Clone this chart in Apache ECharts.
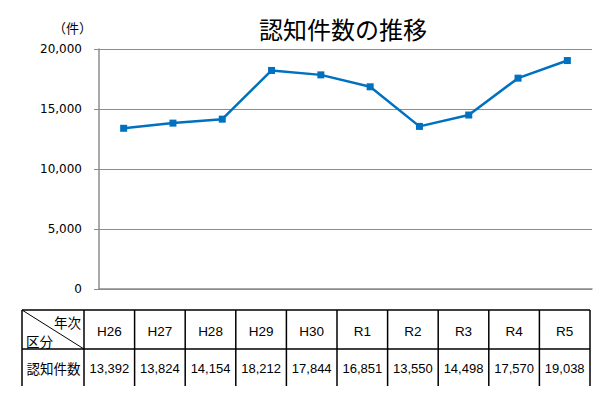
<!DOCTYPE html>
<html>
<head>
<meta charset="utf-8">
<script src="https://cdn.jsdelivr.net/npm/echarts@6/dist/echarts.min.js"></script>
<style>html,body{margin:0;padding:0;background:#fff}#c{width:596px;height:396px}</style>
</head>
<body>
<div id="c"></div>
<script>
// ---- data ----
var titleText = '認知件数の推移';
var unitText = '（件）';
var categories = ['H26','H27','H28','H29','H30','R1','R2','R3','R4','R5'];
var counts = [13392,13824,14154,18212,17844,16851,13550,14498,17570,19038];
var rowHeaderTop = '年次';
var rowHeaderBottom = '区分';
var rowLabel = '認知件数';
var yTicks = [0, 5000, 10000, 15000, 20000];

function fmt(n){ return String(n).replace(/\B(?=(\d{3})+(?!\d))/g, ','); }

var chart = echarts.init(document.getElementById('c'), null, {renderer:'svg'});

// table layout
var tLeft = 22, tFirst = 84, tRight = 590, tTop = 310, tMid = 349, tBottom = 386;
var colW = (tRight - tFirst) / categories.length;
var lineStyle = {stroke:'#000', lineWidth:1.5};
var latin = '"Liberation Sans", "Noto Sans CJK JP", sans-serif';
var g = [];
function hline(y){ g.push({type:'line', shape:{x1:tLeft,y1:y,x2:tRight,y2:y}, style:lineStyle, silent:true}); }
function vline(x){ g.push({type:'line', shape:{x1:x,y1:tTop,x2:x,y2:tBottom}, style:lineStyle, silent:true}); }
hline(tTop); hline(tMid);
vline(tLeft); vline(tFirst);
for (var i = 0; i < categories.length; i++) vline(tFirst + colW*(i+1));
g.push({type:'line', shape:{x1:tLeft,y1:tTop,x2:tFirst,y2:tMid}, style:{stroke:'#000',lineWidth:1}, silent:true});
g.push({type:'text', x:81, y:322, style:{text:rowHeaderTop, font:'13.5px "Noto Sans CJK JP"', fill:'#000', align:'right', verticalAlign:'middle'}});
g.push({type:'text', x:26, y:341, style:{text:rowHeaderBottom, font:'13.5px "Noto Sans CJK JP"', fill:'#000', align:'left', verticalAlign:'middle'}});
g.push({type:'text', x:(tLeft+tFirst)/2+0.5, y:368, style:{text:rowLabel, font:'13.5px "Noto Sans CJK JP"', fill:'#000', align:'center', verticalAlign:'middle'}});
for (var j = 0; j < categories.length; j++) {
  var cx = tFirst + colW*(j+0.5);
  g.push({type:'text', x:cx, y:331, style:{text:categories[j], font:'13.5px '+latin, fill:'#000', align:'center', verticalAlign:'middle'}});
  g.push({type:'text', x:cx, y:368, style:{text:fmt(counts[j]), font:'13px '+latin, fill:'#000', align:'center', verticalAlign:'middle'}});
}

chart.setOption({
  animation:false,
  backgroundColor:'#fff',
  title:{
    text:titleText, left:259, top:16, padding:0,
    textStyle:{fontFamily:'"Noto Sans CJK JP"', fontSize:24, fontWeight:'normal', color:'#000'}
  },
  grid:{left:99, right:4, top:49, bottom:107, containLabel:false},
  xAxis:{
    type:'category', data:categories, boundaryGap:true,
    axisLine:{lineStyle:{color:'#8c8c8c', width:1.5}},
    axisTick:{show:false}, axisLabel:{show:false}, splitLine:{show:false}
  },
  yAxis:{
    type:'value', min:yTicks[0], max:yTicks[yTicks.length-1], interval:5000,
    name:unitText, nameLocation:'end', nameGap:22,
    nameTextStyle:{fontFamily:'"Noto Sans CJK JP"', fontSize:13, color:'#000', align:'right', verticalAlign:'middle', padding:[0,7,0,0]},
    axisLine:{show:true, lineStyle:{color:'#8c8c8c', width:1.5}},
    axisTick:{show:true, inside:false, length:5, lineStyle:{color:'#8c8c8c', width:1}},
    axisLabel:{margin:17, fontFamily:'"DejaVu Sans"', fontSize:12, color:'#000', formatter:function(v){return fmt(v);}},
    splitLine:{show:true, lineStyle:{color:'#8c8c8c', width:1}}
  },
  series:[{
    type:'line', data:counts, symbol:'rect', symbolSize:7,
    lineStyle:{color:'#0070C0', width:2.5},
    itemStyle:{color:'#0070C0'}
  }],
  graphic:g
});
</script>
</body>
</html>
